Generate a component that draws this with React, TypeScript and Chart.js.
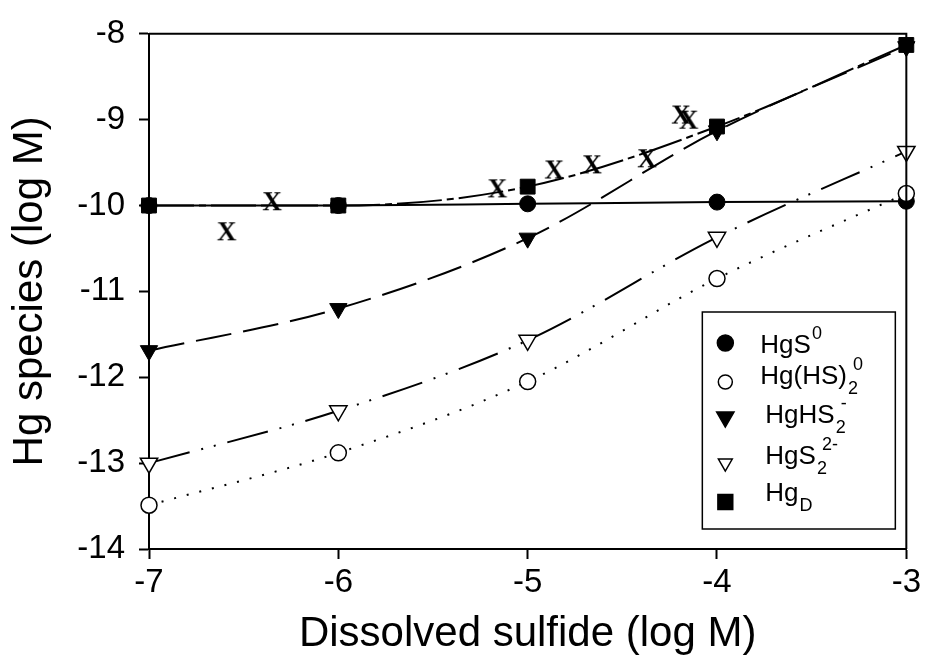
import { useEffect, useRef } from 'react';
import { Chart, registerables } from 'chart.js';
import { drawPoint } from 'chart.js/helpers';

Chart.register(...registerables);

// ---- data ----
const sulfide = [-7, -6, -5, -4, -3];
const hgS0 = [-10.0, -10.0, -9.98, -9.96, -9.95];
const hgHS2neutral = [-13.49, -12.88, -12.05, -10.85, -9.86];
const hgHS2minus = [-11.69, -11.2, -10.38, -9.13, -8.15];
const hgS2twoMinus = [-13.0, -12.39, -11.57, -10.37, -9.37];
const hgD = [-10.0, -10.0, -9.78, -9.08, -8.13];

const measuredX = [-6.59, -6.35, -5.16, -4.86, -4.66, -4.37, -4.19, -4.15];
const measuredY = [-10.3, -9.95, -9.8, -9.58, -9.52, -9.45, -8.94, -9.0];

const xTicks = [-7, -6, -5, -4, -3];
const yTicks = [-8, -9, -10, -11, -12, -13, -14];

const xTitle = 'Dissolved sulfide (log M)';
const yTitle = 'Hg species (log M)';

// legend labels: base text, subscript, superscript
const legendBase = ['HgS', 'Hg(HS)', 'HgHS', 'HgS', 'Hg'];
const legendSub = ['', '2', '2', '2', 'D'];
const legendSup = ['0', '0', '-', '2-', ''];

const FONT = '"Liberation Sans", Arial, Helvetica, sans-serif';

function makeXMarker(): HTMLCanvasElement {
  const c = document.createElement('canvas');
  c.width = 30;
  c.height = 30;
  const ctx = c.getContext('2d')!;
  ctx.font = 'bold 27px "Liberation Serif", "Times New Roman", serif';
  ctx.textAlign = 'center';
  ctx.textBaseline = 'alphabetic';
  ctx.fillStyle = '#000';
  ctx.fillText('X', 15, 15 + 9);
  return c;
}

const framePlugin = {
  id: 'frame',
  afterDraw(chart: any) {
    const { ctx, chartArea } = chart;
    ctx.save();
    ctx.strokeStyle = '#000';
    ctx.lineWidth = 2;
    ctx.beginPath();
    ctx.moveTo(chartArea.left, chartArea.top);
    ctx.lineTo(chartArea.right, chartArea.top);
    ctx.lineTo(chartArea.right, chartArea.bottom);
    ctx.stroke();
    ctx.restore();
  },
};

const legendMarkerRadius = [8, 7, 10, 8, 10.5];
const legendRowMarkerY = [31, 70, 105, 151, 190];
const legendRowTextY = [41, 72, 111, 152, 189];
const legendRowTextX = [58, 58, 63, 63, 63];

const legendPlugin = {
  id: 'richLegend',
  afterDraw(chart: any) {
    const { ctx, chartArea } = chart;
    const w = 193;
    const h = 217;
    const right = chartArea.right - 11;
    const bottom = chartArea.bottom - 20;
    const left = right - w;
    const top = bottom - h;
    ctx.save();
    ctx.fillStyle = '#fff';
    ctx.fillRect(left, top, w, h);
    ctx.strokeStyle = '#000';
    ctx.lineWidth = 1.5;
    ctx.strokeRect(left, top, w, h);

    for (let i = 0; i < legendBase.length; i++) {
      const ds = chart.data.datasets[i];
      ctx.fillStyle = ds.pointBackgroundColor;
      ctx.strokeStyle = '#000';
      ctx.lineWidth = 1.5;
      drawPoint(
        ctx,
        {
          pointStyle: ds.pointStyle,
          rotation: ds.pointRotation || 0,
          radius: legendMarkerRadius[i],
          borderWidth: 1.5,
        } as any,
        left + 23,
        top + legendRowMarkerY[i]
      );

      const tx = left + legendRowTextX[i];
      const ty = top + legendRowTextY[i];
      ctx.fillStyle = '#000';
      ctx.textAlign = 'left';
      ctx.textBaseline = 'alphabetic';
      ctx.font = `26px ${FONT}`;
      ctx.fillText(legendBase[i], tx, ty);
      const bw = ctx.measureText(legendBase[i]).width;
      ctx.font = `18px ${FONT}`;
      let subW = 0;
      if (legendSub[i]) {
        ctx.fillText(legendSub[i], tx + bw + 1, ty + 10);
        subW = ctx.measureText(legendSub[i]).width;
      }
      if (legendSup[i]) {
        ctx.fillText(legendSup[i], tx + bw + 1 + subW * 0.5, ty - 14);
      }
    }
    ctx.restore();
  },
};

export default function App() {
  const ref = useRef<HTMLCanvasElement | null>(null);

  useEffect(() => {
    if (!ref.current) return;
    Chart.defaults.font.family = FONT;
    const xMarker = makeXMarker();
    const pts = (ys: number[]) => sulfide.map((x, i) => ({ x, y: ys[i] }));

    const chart = new Chart(ref.current, {
      type: 'line',
      data: {
        datasets: [
          {
            label: 'HgS0',
            data: pts(hgS0),
            borderColor: '#000',
            borderWidth: 2,
            pointStyle: 'circle',
            pointRadius: 8,
            pointBackgroundColor: '#000',
            pointBorderColor: '#000',
            pointBorderWidth: 1,
            cubicInterpolationMode: 'monotone',
            clip: false,
            order: 0,
          },
          {
            label: 'Hg(HS)2 0',
            data: pts(hgHS2neutral),
            borderColor: '#000',
            borderWidth: 2,
            borderDash: [2, 11],
            pointStyle: 'circle',
            pointRadius: 8,
            pointBackgroundColor: '#fff',
            pointBorderColor: '#000',
            pointBorderWidth: 1.5,
            cubicInterpolationMode: 'monotone',
            clip: false,
            order: -1,
          },
          {
            label: 'HgHS2-',
            data: pts(hgHS2minus),
            borderColor: '#000',
            borderWidth: 2,
            borderDash: [36, 12],
            pointStyle: 'triangle',
            pointRotation: 180,
            pointRadius: 10,
            pointBackgroundColor: '#000',
            pointBorderColor: '#000',
            pointBorderWidth: 1,
            cubicInterpolationMode: 'monotone',
            clip: false,
            order: 0,
          },
          {
            label: 'HgS2 2-',
            data: pts(hgS2twoMinus),
            borderColor: '#000',
            borderWidth: 2,
            borderDash: [42, 12, 2, 11, 2, 12],
            pointStyle: 'triangle',
            pointRotation: 180,
            pointRadius: 10,
            pointBackgroundColor: '#fff',
            pointBorderColor: '#000',
            pointBorderWidth: 1.5,
            cubicInterpolationMode: 'monotone',
            clip: false,
            order: 0,
          },
          {
            label: 'HgD',
            data: pts(hgD),
            borderColor: '#000',
            borderWidth: 2,
            borderDash: [45, 5, 7, 5],
            pointStyle: 'rect',
            pointRadius: 10.5,
            pointBackgroundColor: '#000',
            pointBorderColor: '#000',
            pointBorderWidth: 1,
            cubicInterpolationMode: 'monotone',
            clip: false,
            order: -2,
          },
          {
            label: 'measured',
            data: measuredX.map((x, i) => ({ x, y: measuredY[i] })),
            showLine: false,
            pointStyle: xMarker,
            pointRadius: 10,
            pointBackgroundColor: '#000',
            clip: false,
            order: -3,
          },
        ] as any,
      },
      options: {
        animation: false,
        responsive: false,
        maintainAspectRatio: false,
        layout: { padding: { top: 32, right: 18, left: 0, bottom: 0 } },
        plugins: {
          legend: { display: false },
          tooltip: { enabled: false },
        },
        scales: {
          x: {
            type: 'linear',
            min: -7,
            max: -3,
            afterBuildTicks: (s: any) => {
              s.ticks = xTicks.map((v) => ({ value: v }));
            },
            afterFit: (s: any) => {
              s.height = 114;
            },
            ticks: {
              color: '#000',
              font: { size: 33, family: FONT },
              padding: 4,
              maxRotation: 0,
              callback: (v: any) => String(v),
            },
            grid: {
              drawOnChartArea: false,
              drawTicks: true,
              tickLength: 10,
              tickWidth: 2,
              tickColor: '#000',
              color: '#000',
            },
            border: { display: true, color: '#000', width: 2 },
            title: {
              display: true,
              text: xTitle,
              color: '#000',
              font: { size: 42, family: FONT },
              padding: { top: 0, bottom: 3 },
            },
          },
          y: {
            type: 'linear',
            min: -14,
            max: -8,
            afterBuildTicks: (s: any) => {
              s.ticks = yTicks.map((v) => ({ value: v }));
            },
            afterFit: (s: any) => {
              s.width = 149;
            },
            ticks: {
              color: '#000',
              font: { size: 33, family: FONT },
              padding: 14,
              callback: (v: any) => String(v),
            },
            grid: {
              drawOnChartArea: false,
              drawTicks: true,
              tickLength: 10,
              tickWidth: 2,
              tickColor: '#000',
              color: '#000',
            },
            border: { display: true, color: '#000', width: 2 },
            title: {
              display: true,
              text: yTitle,
              color: '#000',
              font: { size: 42, family: FONT },
              padding: { top: 5, bottom: 0 },
            },
          },
        },
      } as any,
      plugins: [framePlugin, legendPlugin],
    });

    return () => chart.destroy();
  }, []);

  return (
    <div style={{ position: 'absolute', left: 0, top: 0, width: 925, height: 663 }}>
      <canvas ref={ref} width={925} height={663} style={{ display: 'block' }} />
    </div>
  );
}
